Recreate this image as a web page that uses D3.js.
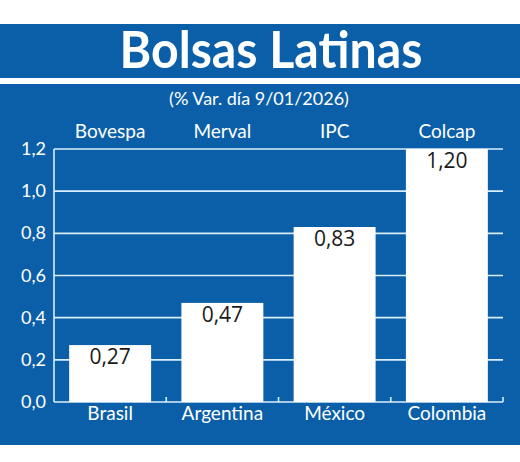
<!DOCTYPE html>
<html>
<head>
<meta charset="utf-8">
<script src="https://cdn.jsdelivr.net/npm/d3@7"></script>
<style>
  body { margin: 0; background: #fff; }
  text { font-family: Lato, "Open Sans", sans-serif; }
</style>
</head>
<body>
<div id="chart"></div>
<script>
const width = 520;
const height = 462;
const blue = '#0b5fa8';

// datos
const paises = ['Brasil', 'Argentina', 'México', 'Colombia'];
const indices = ['Bovespa', 'Merval', 'IPC', 'Colcap'];
const variacion = [0.27, 0.47, 0.83, 1.20];
const ticksY = [0, 0.2, 0.4, 0.6, 0.8, 1.0, 1.2];

const title = 'Bolsas Latinas';
const subtitle = '(% Var. día 9/01/2026)';

const data = paises.map((p, i) => ({pais: p, indice: indices[i], valor: variacion[i]}));

const svg = d3.select('#chart').append('svg')
  .attr('width', width)
  .attr('height', height);

// banda del titulo
svg.append('rect')
  .attr('x', 0).attr('y', 24)
  .attr('width', 520).attr('height', 54)
  .attr('fill', blue);

svg.append('text')
  .attr('x', 271).attr('y', 68)
  .attr('text-anchor', 'middle')
  .attr('fill', '#fff')
  .attr('textLength', 303)
  .attr('lengthAdjust', 'spacingAndGlyphs')
  .style('font-size', '52px')
  .style('font-weight', 'bold')
  .text(title);

// panel
svg.append('rect')
  .attr('x', 0).attr('y', 84)
  .attr('width', 520).attr('height', 361)
  .attr('fill', blue);

svg.append('text')
  .attr('x', 259).attr('y', 105)
  .attr('text-anchor', 'middle')
  .attr('fill', '#fff')
  .style('font-size', '18px')
  .text(subtitle);

const x = d3.scaleBand()
  .domain(paises)
  .range([54, 503])
  .paddingInner(0.27)
  .paddingOuter(0.135);

const y = d3.scaleLinear()
  .domain([0, 1.2])
  .range([402, 149]);

const fmt = d => d3.format('.1f')(d).replace('.', ',');

// grid
svg.append('g')
  .selectAll('line')
  .data(ticksY)
  .join('line')
  .attr('x1', 54).attr('x2', 503)
  .attr('y1', d => y(d)).attr('y2', d => y(d))
  .style('stroke', '#d8eefa')
  .style('stroke-width', 1.6);

// eje y
svg.append('line')
  .attr('x1', 54).attr('x2', 54)
  .attr('y1', y(1.2)).attr('y2', y(0))
  .style('stroke', '#d8eefa')
  .style('stroke-width', 1.6);

svg.append('g')
  .selectAll('text')
  .data(ticksY)
  .join('text')
  .attr('x', 46)
  .attr('y', d => y(d) + 6)
  .attr('text-anchor', 'end')
  .attr('fill', '#fff')
  .style('font-size', '18px')
  .text(fmt);

// marcas entre categorias
const step = x.step();
svg.append('g')
  .selectAll('line')
  .data(paises)
  .join('line')
  .attr('x1', d => x(d) - step * x.paddingInner() / 2 + step)
  .attr('x2', d => x(d) - step * x.paddingInner() / 2 + step)
  .attr('y1', y(0)).attr('y2', y(0) - 5)
  .style('stroke', '#d8eefa')
  .style('stroke-width', 1.6);

// barras
svg.append('g')
  .selectAll('rect')
  .data(data)
  .join('rect')
  .attr('x', d => x(d.pais))
  .attr('y', d => y(d.valor))
  .attr('width', x.bandwidth())
  .attr('height', d => y(0) - y(d.valor))
  .attr('fill', '#fff');

svg.append('g')
  .selectAll('text')
  .data(data)
  .join('text')
  .attr('x', d => x(d.pais) + x.bandwidth() / 2)
  .attr('y', d => y(d.valor) + 19)
  .attr('text-anchor', 'middle')
  .attr('fill', '#1a1a1a')
  .style('font-family', '"Open Sans", sans-serif')
  .style('font-size', '21px')
  .text(d => d3.format('.2f')(d.valor).replace('.', ','));

// etiquetas
svg.append('g')
  .selectAll('text')
  .data(data)
  .join('text')
  .attr('x', d => x(d.pais) + x.bandwidth() / 2)
  .attr('y', 138)
  .attr('text-anchor', 'middle')
  .attr('fill', '#fff')
  .style('font-size', '19px')
  .text(d => d.indice);

svg.append('g')
  .selectAll('text')
  .data(data)
  .join('text')
  .attr('x', d => x(d.pais) + x.bandwidth() / 2)
  .attr('y', 420)
  .attr('text-anchor', 'middle')
  .attr('fill', '#fff')
  .style('font-size', '19px')
  .text(d => d.pais);
</script>
</body>
</html>
